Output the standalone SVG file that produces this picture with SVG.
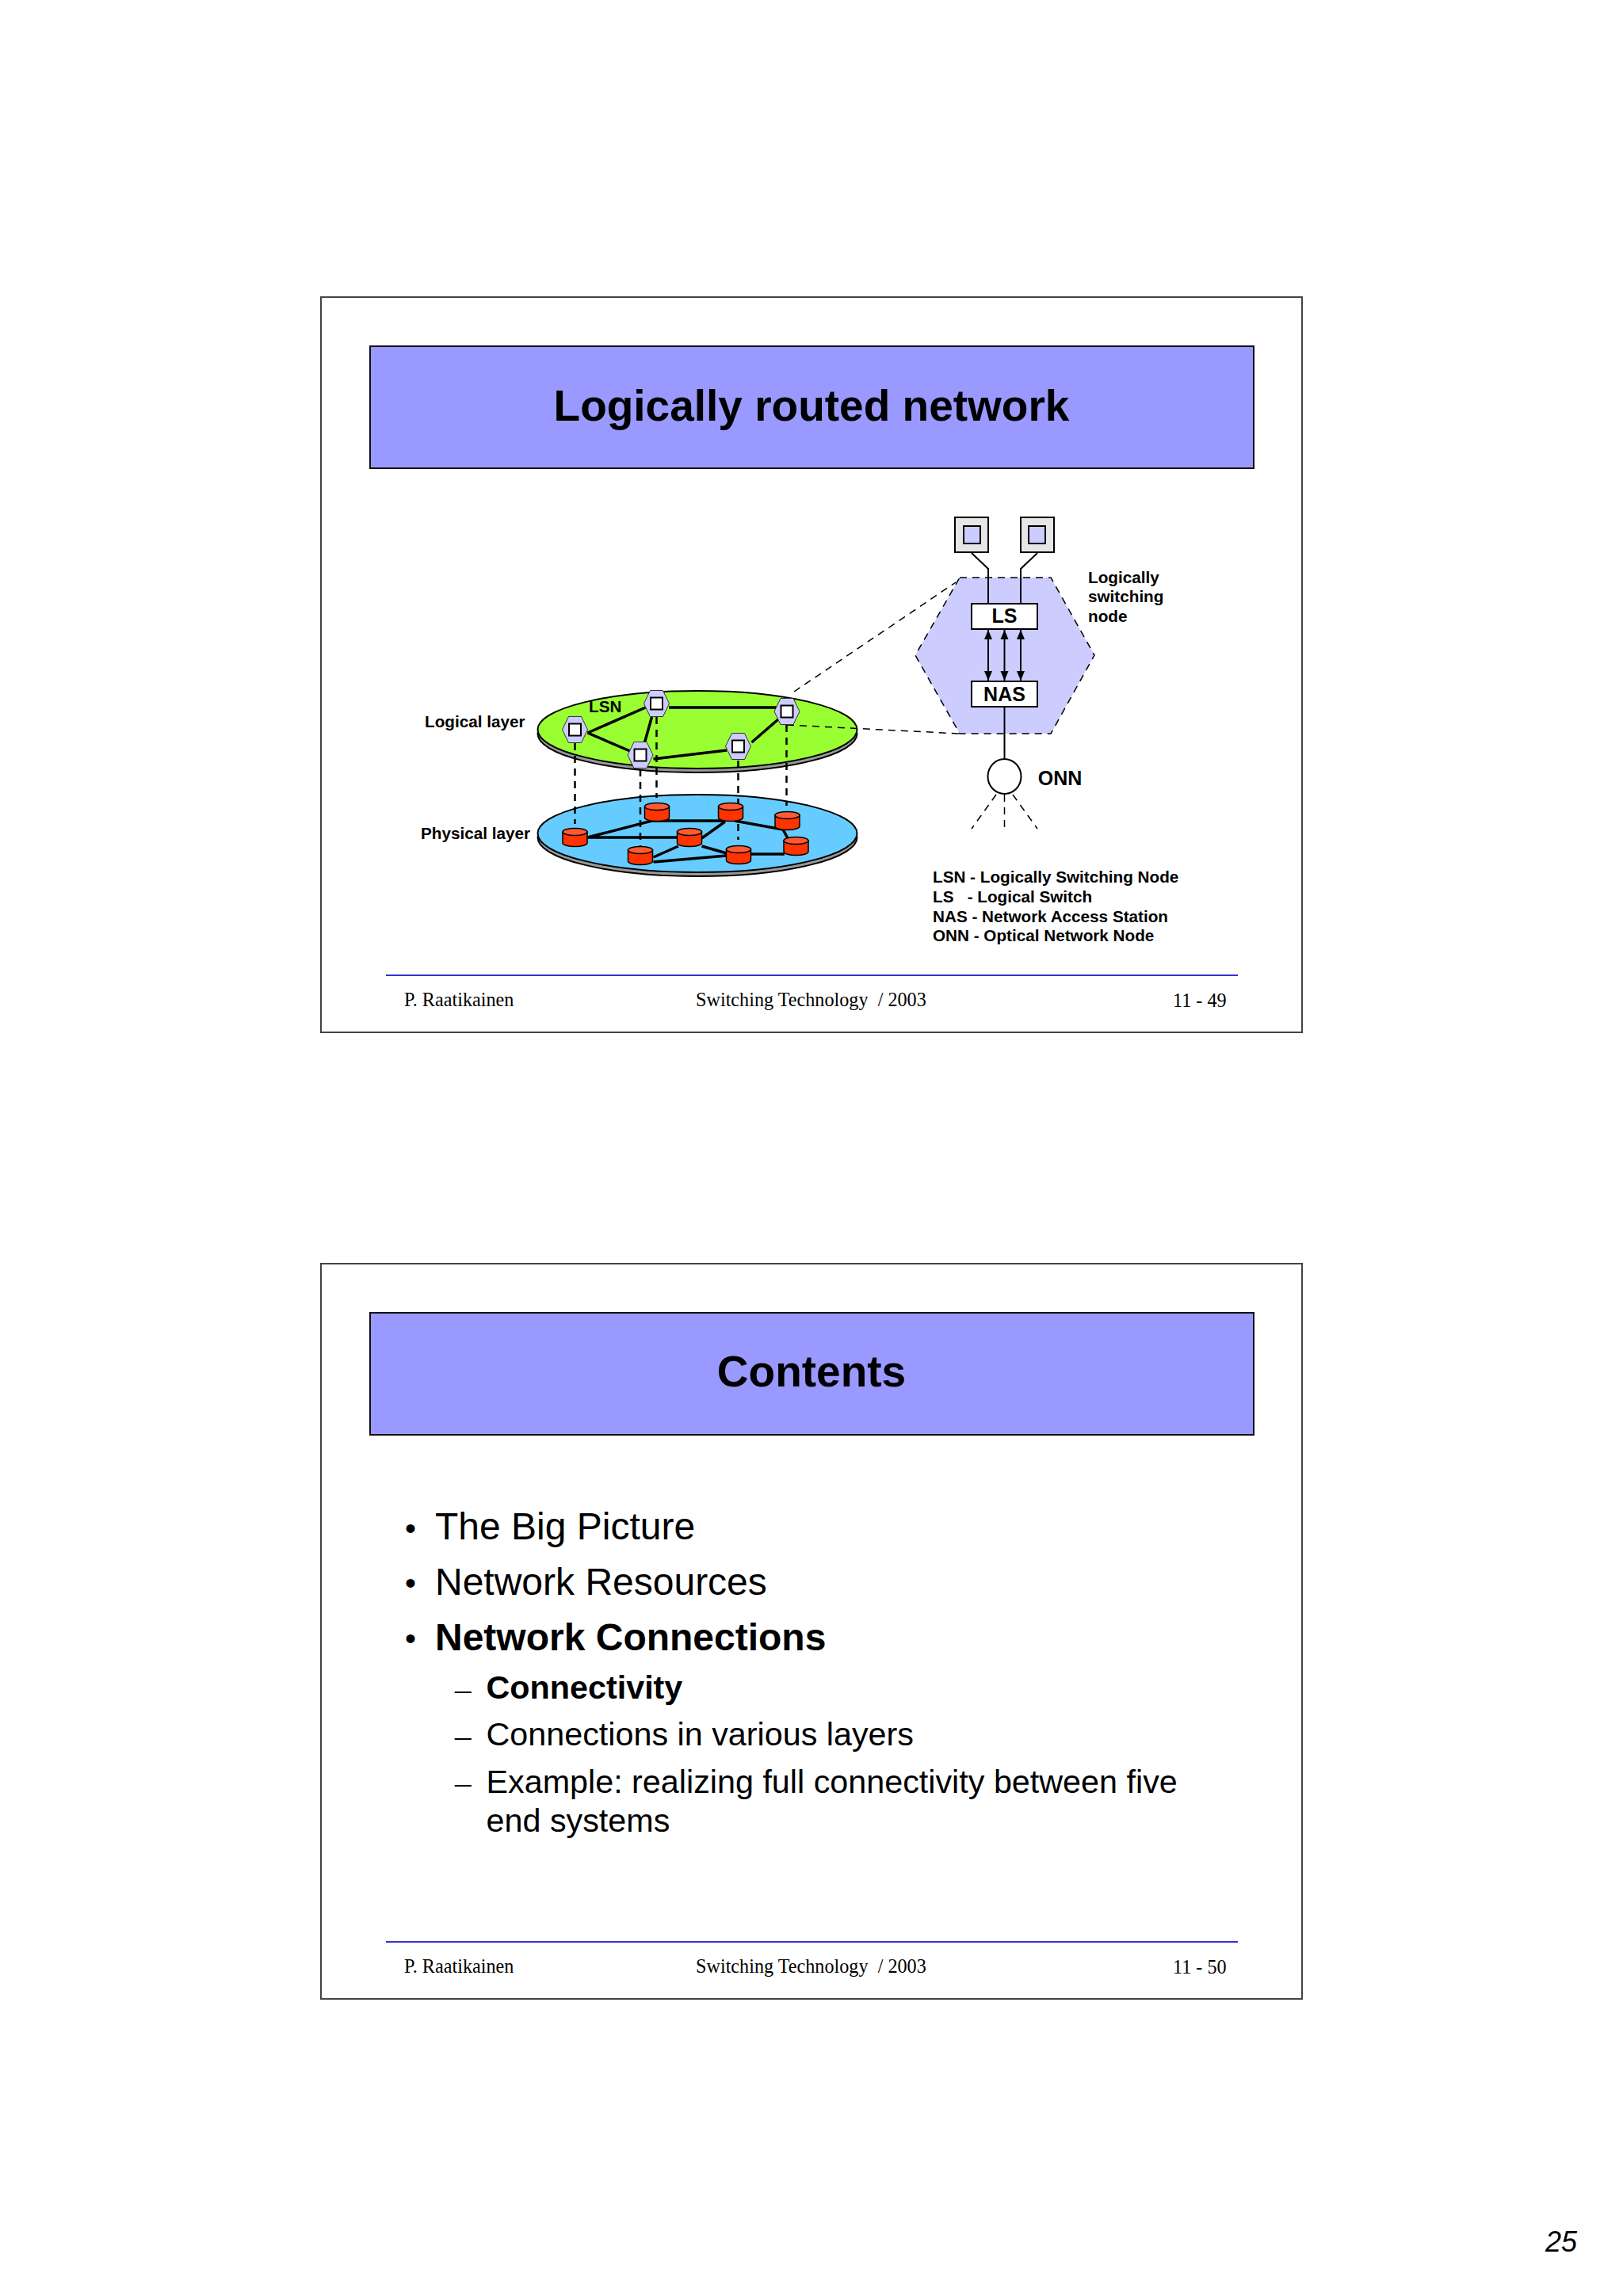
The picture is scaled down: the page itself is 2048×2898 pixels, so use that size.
<svg xmlns="http://www.w3.org/2000/svg" width="2048" height="2898" viewBox="0 0 2048 2898">
<style>
text{font-family:"Liberation Sans",Arial,sans-serif;fill:#000}
.frame{fill:#fff;stroke:#444;stroke-width:2}
.band{fill:#9999ff;stroke:#111;stroke-width:2}
.title{font-size:55px;font-weight:bold;text-anchor:middle}
.rule{stroke:#3333cc;stroke-width:2}
.foot{font-family:"Liberation Serif","Times New Roman",serif;font-size:24.200px}
.lbl{font-size:20.700px;font-weight:bold}
.big{font-size:25px;font-weight:bold;text-anchor:middle}
.l1{font-size:48px}
.l2{font-size:41.300px}
.bul{font-size:40px}
.en{font-family:"Liberation Serif","Times New Roman",serif;font-size:41px}
.b{font-weight:bold}
.shadow{fill:#999;stroke:#000;stroke-width:2}
.hexn{fill:#ccccff;stroke:#333;stroke-width:1}
.sq{fill:#fff;stroke:#000;stroke-width:2}
.thick{stroke:#000;stroke-width:3.500;fill:none}
.thin{stroke:#000;stroke-width:2;fill:none}
.dash{stroke:#000;stroke-width:2.500;stroke-dasharray:9 7;fill:none}
.dash2{stroke:#000;stroke-width:1.500;stroke-dasharray:9 7;fill:none}
.cyl{fill:#ff3300;stroke:#000;stroke-width:1.500}
.cyt{fill:#ff5a33;stroke:#000;stroke-width:1.500}
</style>
<defs>
<g id="hex"><polygon class="hexn" points="-16,0 -8,-16.500 8,-16.500 16,0 8,16.500 -8,16.500"/><rect class="sq" x="-7.500" y="-7.500" width="15" height="15"/></g>
<g id="cyl"><path class="cyl" d="M-15.500,-7 V7 A15.500,4.500 0 0 0 15.500,7 V-7 Z"/><ellipse class="cyt" cx="0" cy="-7" rx="15.500" ry="4.500"/></g>
<marker id="ah" viewBox="0 0 12 12" refX="12" refY="6" markerWidth="12" markerHeight="12" markerUnits="userSpaceOnUse" orient="auto-start-reverse"><path d="M0,1 L12,6 L0,11 Z" fill="#000"/></marker>
</defs>
<rect width="2048" height="2898" fill="#fff"/>

<g id="slide1">
<rect class="frame" x="405" y="375" width="1238" height="928"/>
<rect class="band" x="467" y="437" width="1115" height="154"/>
<text class="title" x="1024" y="531">Logically routed network</text>
<line class="rule" x1="487" y1="1231" x2="1562" y2="1231"/>
<text class="foot" x="510" y="1270">P. Raatikainen</text>
<text class="foot" x="878" y="1270" xml:space="preserve">Switching Technology  / 2003</text>
<text class="foot" x="1480" y="1271">11 - 49</text>
</g>

<g id="physical-plate">
<ellipse class="shadow" cx="880" cy="1057" rx="201.500" ry="49"/>
<ellipse cx="880" cy="1052" rx="201.500" ry="49" fill="#66ccff" stroke="#000" stroke-width="2"/>
</g>
<g id="logical-plate">
<ellipse class="shadow" cx="880" cy="926" rx="201.500" ry="49"/>
<ellipse cx="880" cy="921" rx="201.500" ry="49" fill="#99ff33" stroke="#000" stroke-width="2"/>
</g>

<g id="connectors">
<path class="thick" d="M741.500,925 L814.500,893 M741.500,925 L795,948 M844,893 H980 M822.500,905 L813.500,937 M824.500,958 L917,947 M948.500,937 L982,908"/>
<path class="thick" d="M741.500,1057 L822.500,1036 H915 M741.500,1057 H856 M915,1037 L885.500,1058 M927,1036 L988,1047 L994,1058 M885.500,1068 L917,1077 M946.500,1078 H990 M824.500,1082 L856,1068 M824.500,1088 L917,1080"/>
<path class="dash" d="M725.500,938 V1040 M808,971 V1068 M828.500,905 V1007 M931.500,960 V1060 M992.500,915 V1017"/>
<path class="dash2" d="M1002,873 L1206,735 M993,915 L1211,926"/>
</g>

<g id="lsn-1"><use href="#hex" x="725.500" y="921"/></g>
<g id="lsn-2"><use href="#hex" x="828.500" y="888"/></g>
<g id="lsn-3"><use href="#hex" x="993" y="898"/></g>
<g id="lsn-4"><use href="#hex" x="808" y="953"/></g>
<g id="lsn-5"><use href="#hex" x="931.500" y="942"/></g>

<g id="onn-1"><use href="#cyl" x="725.500" y="1057"/></g>
<g id="onn-2"><use href="#cyl" x="829" y="1025"/></g>
<g id="onn-3"><use href="#cyl" x="922" y="1025"/></g>
<g id="onn-4"><use href="#cyl" x="993.500" y="1036"/></g>
<g id="onn-5"><use href="#cyl" x="870" y="1057"/></g>
<g id="onn-6"><use href="#cyl" x="808" y="1080"/></g>
<g id="onn-7"><use href="#cyl" x="932" y="1079"/></g>
<g id="onn-8"><use href="#cyl" x="1004.500" y="1068"/></g>

<text class="lbl" x="536" y="918">Logical layer</text>
<text class="lbl" x="531" y="1059">Physical layer</text>
<text class="lbl" x="743" y="899">LSN</text>

<g id="lsn-detail">
<polygon points="1211,729 1326,729 1381,827 1326,926 1211,926 1155,827" fill="#ccccff"/>
<polygon class="dash2" points="1211,729 1326,729 1381,827 1326,926 1211,926 1155,827"/>
</g>
<g id="terminal-1"><rect x="1205" y="653" width="42" height="44" fill="#e6e6e6" stroke="#000" stroke-width="2"/><rect x="1216" y="664" width="21" height="22" fill="#ccccff" stroke="#000" stroke-width="2"/></g>
<g id="terminal-2"><rect x="1288" y="653" width="42" height="44" fill="#e6e6e6" stroke="#000" stroke-width="2"/><rect x="1298" y="664" width="21" height="22" fill="#ccccff" stroke="#000" stroke-width="2"/></g>
<g id="detail-connectors">
<path class="thin" d="M1226,698 L1247,718 V763 M1309,698 L1288,718 V763 M1267.500,892 V958"/>
<line class="thin" marker-start="url(#ah)" marker-end="url(#ah)" x1="1247" y1="795" x2="1247" y2="859"/>
<line class="thin" marker-start="url(#ah)" marker-end="url(#ah)" x1="1267.500" y1="795" x2="1267.500" y2="859"/>
<line class="thin" marker-start="url(#ah)" marker-end="url(#ah)" x1="1288" y1="795" x2="1288" y2="859"/>
<path class="dash2" d="M1257,1003 L1226,1046 M1267.500,1003 V1047 M1278,1003 L1309,1046"/>
</g>
<g id="ls"><rect x="1226" y="762" width="83" height="32" fill="#fff" stroke="#000" stroke-width="2"/><text class="big" x="1267.500" y="786">LS</text></g>
<g id="nas"><rect x="1226" y="860" width="83" height="32" fill="#fff" stroke="#000" stroke-width="2"/><text class="big" x="1267.500" y="885">NAS</text></g>
<g id="onn"><ellipse cx="1267.500" cy="980" rx="21" ry="22" fill="#fff" stroke="#000" stroke-width="2"/></g>
<text class="big" x="1337.500" y="991">ONN</text>
<text class="lbl" x="1373" y="736">Logically</text>
<text class="lbl" x="1373" y="760">switching</text>
<text class="lbl" x="1373" y="785">node</text>
<text class="lbl" x="1177" y="1113.500">LSN - Logically Switching Node</text>
<text class="lbl" x="1177" y="1138.500" xml:space="preserve">LS   - Logical Switch</text>
<text class="lbl" x="1177" y="1163.500">NAS - Network Access Station</text>
<text class="lbl" x="1177" y="1187.500">ONN - Optical Network Node</text>

<g id="slide2">
<rect class="frame" x="405" y="1595" width="1238" height="928"/>
<rect class="band" x="467" y="1657" width="1115" height="154"/>
<text class="title" x="1024" y="1750">Contents</text>
<text class="bul" x="511" y="1943">•</text><text class="l1" x="549" y="1943">The Big Picture</text>
<text class="bul" x="511" y="2012">•</text><text class="l1" x="549" y="2013">Network Resources</text>
<text class="bul" x="511" y="2082">•</text><text class="l1 b" x="549" y="2082.500">Network Connections</text>
<text class="en" x="574" y="2145">–</text><text class="l2 b" x="613.500" y="2144">Connectivity</text>
<text class="en" x="574" y="2204">–</text><text class="l2" x="613.500" y="2203">Connections in various layers</text>
<text class="en" x="574" y="2263">–</text><text class="l2" x="613.500" y="2262.500">Example: realizing full connectivity between five</text>
<text class="l2" x="613.500" y="2312">end systems</text>
<line class="rule" x1="487" y1="2451" x2="1562" y2="2451"/>
<text class="foot" x="510" y="2490">P. Raatikainen</text>
<text class="foot" x="878" y="2490" xml:space="preserve">Switching Technology  / 2003</text>
<text class="foot" x="1480" y="2491">11 - 50</text>
</g>
<text id="page" x="1990" y="2842" text-anchor="end" font-size="36" font-style="italic">25</text>
</svg>
